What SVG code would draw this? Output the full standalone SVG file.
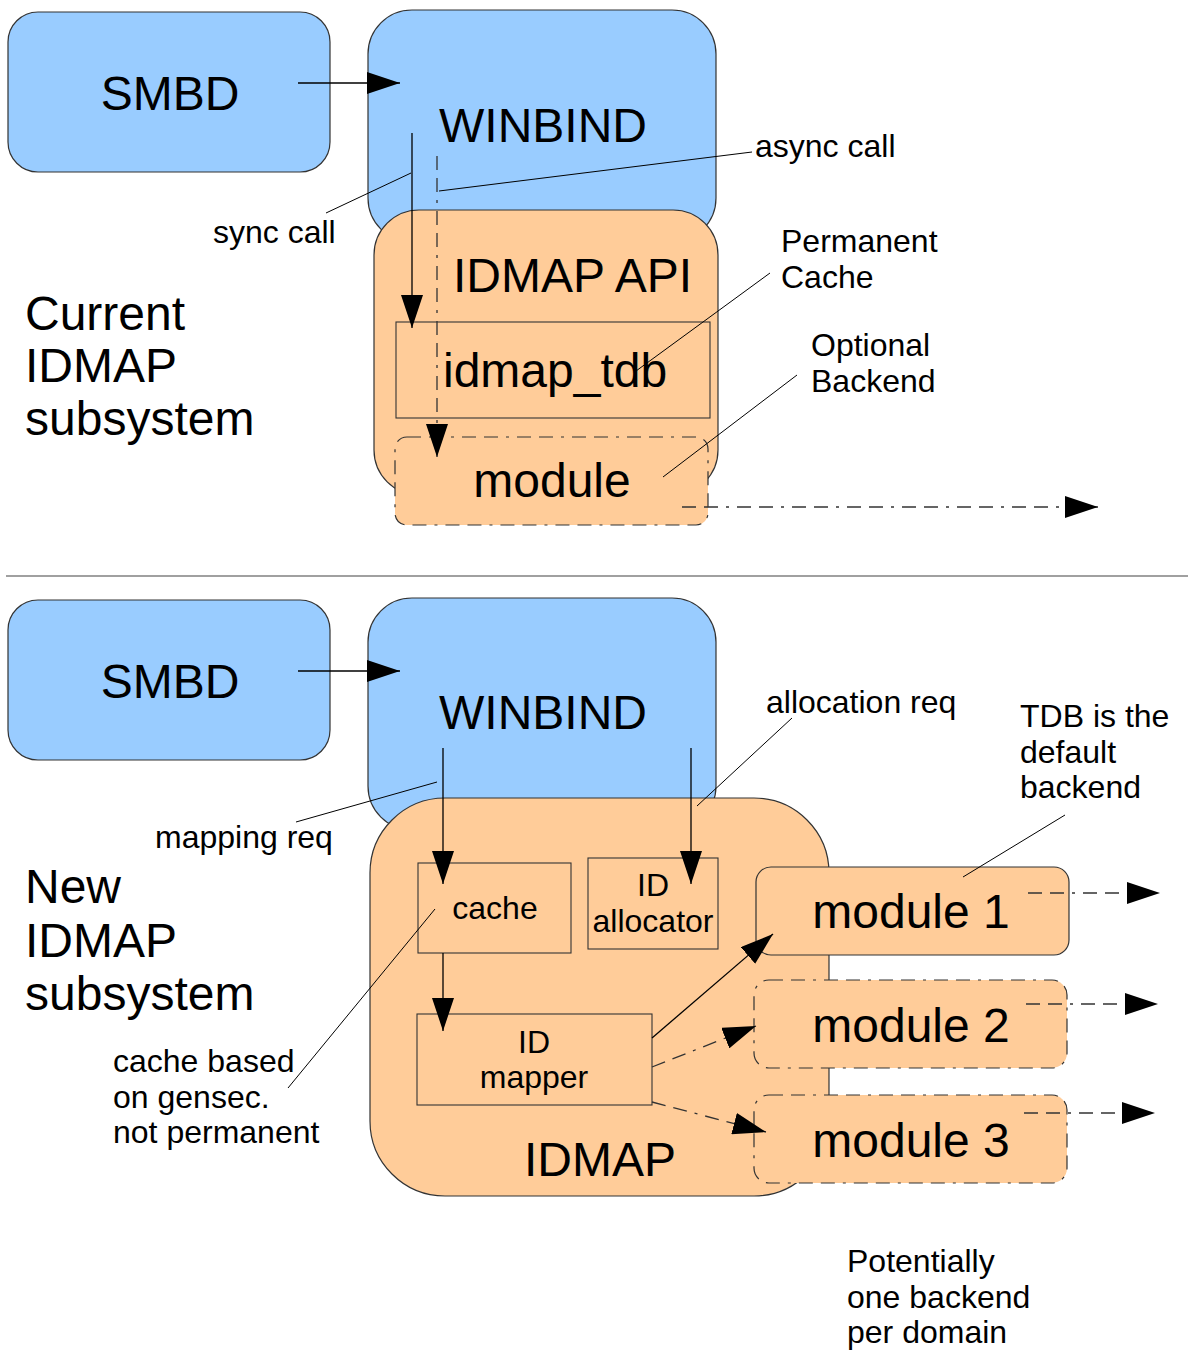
<svg xmlns="http://www.w3.org/2000/svg" width="1193" height="1355" viewBox="0 0 1193 1355">
<defs>
<marker id="ah" markerUnits="userSpaceOnUse" markerWidth="34" markerHeight="22" refX="33" refY="11" orient="auto" viewBox="0 0 34 22">
<path d="M0,0 L33,11 L0,22 z" fill="#000"/>
</marker>
</defs>
<style>
.blue{fill:#99ccff;stroke:#333;stroke-width:1.2}
.org{fill:#ffcc99;stroke:#333;stroke-width:1.2}
.orgd{fill:#ffcc99;stroke:#333;stroke-width:1.2;stroke-dasharray:14 8 14 8 3 8}
.rect{fill:none;stroke:#333;stroke-width:1.1}
.big{font-family:"Liberation Sans",Arial,sans-serif;font-size:48px;fill:#000}
.sm{font-family:"Liberation Sans",Arial,sans-serif;font-size:32px;fill:#000}
.arr{fill:none;stroke:#000;stroke-width:1.3;marker-end:url(#ah)}
.darr{fill:none;stroke:#333;stroke-width:1.3;stroke-dasharray:14 8 14 8 3 8;marker-end:url(#ah)}
.lead{fill:none;stroke:#000;stroke-width:1}
</style>
<rect width="1193" height="1355" fill="#fff"/>

<!-- TOP SECTION -->
<g id="smbd1"><rect class="blue" x="8" y="12" width="322" height="160" rx="30"/><text class="big" x="170" y="110" text-anchor="middle">SMBD</text></g>
<g id="winbind1"><rect class="blue" x="368" y="10" width="348" height="232" rx="44"/><text class="big" x="439" y="142">WINBIND</text></g>
<g id="idmapapi"><rect class="org" x="374" y="210" width="344" height="285" rx="45"/><text class="big" x="453" y="292">IDMAP API</text></g>
<g id="idmaptdb"><rect class="rect" x="396" y="322" width="314" height="96"/><text class="big" x="443" y="387">idmap_tdb</text></g>
<g id="module"><rect class="orgd" x="395" y="437" width="313" height="88" rx="12"/><text class="big" x="552" y="497" text-anchor="middle">module</text></g>
<g id="label-current"><text class="big" x="25" y="330">Current</text><text class="big" x="25" y="382">IDMAP</text><text class="big" x="25" y="435">subsystem</text></g>
<g id="label-sync"><text class="sm" x="213" y="243">sync call</text></g>
<g id="label-async"><text class="sm" x="755" y="157">async call</text></g>
<g id="label-perm"><text class="sm" x="781" y="252">Permanent</text><text class="sm" x="781" y="288">Cache</text></g>
<g id="label-opt"><text class="sm" x="811" y="356">Optional</text><text class="sm" x="811" y="392">Backend</text></g>

<line x1="6" y1="576" x2="1188" y2="576" stroke="#808080" stroke-width="1.3"/>

<!-- BOTTOM SECTION -->
<g id="smbd2"><rect class="blue" x="8" y="600" width="322" height="160" rx="30"/><text class="big" x="170" y="698" text-anchor="middle">SMBD</text></g>
<g id="winbind2"><rect class="blue" x="368" y="598" width="348" height="232" rx="44"/><text class="big" x="439" y="729">WINBIND</text></g>
<g id="idmap"><rect class="org" x="370" y="798" width="459" height="398" rx="75"/><text class="big" x="600" y="1176" text-anchor="middle">IDMAP</text></g>
<g id="cache"><rect class="rect" x="418" y="863" width="153" height="90"/><text class="sm" x="495" y="919" text-anchor="middle">cache</text></g>
<g id="idalloc"><rect class="rect" x="588" y="858" width="130" height="91"/><text class="sm" x="653" y="896" text-anchor="middle">ID</text><text class="sm" x="653" y="932" text-anchor="middle">allocator</text></g>
<g id="idmapper"><rect class="rect" x="417" y="1014" width="235" height="91"/><text class="sm" x="534" y="1053" text-anchor="middle">ID</text><text class="sm" x="534" y="1088" text-anchor="middle">mapper</text></g>
<g id="module1"><rect class="org" x="756" y="867" width="313" height="88" rx="15"/><text class="big" x="911" y="928" text-anchor="middle">module 1</text></g>
<g id="module2"><rect class="orgd" x="754" y="980" width="313" height="88" rx="15"/><text class="big" x="911" y="1042" text-anchor="middle">module 2</text></g>
<g id="module3"><rect class="orgd" x="754" y="1095" width="313" height="88" rx="15"/><text class="big" x="911" y="1157" text-anchor="middle">module 3</text></g>
<g id="label-new"><text class="big" x="25" y="903">New</text><text class="big" x="25" y="957">IDMAP</text><text class="big" x="25" y="1010">subsystem</text></g>
<g id="label-mapping"><text class="sm" x="155" y="848">mapping req</text></g>
<g id="label-alloc"><text class="sm" x="766" y="713">allocation req</text></g>
<g id="label-tdb"><text class="sm" x="1020" y="727">TDB is the</text><text class="sm" x="1020" y="763">default</text><text class="sm" x="1020" y="798">backend</text></g>
<g id="label-cachebased"><text class="sm" x="113" y="1072">cache based</text><text class="sm" x="113" y="1108">on gensec.</text><text class="sm" x="113" y="1143">not permanent</text></g>
<g id="label-pot"><text class="sm" x="847" y="1272">Potentially</text><text class="sm" x="847" y="1308">one backend</text><text class="sm" x="847" y="1343">per domain</text></g>

<!-- CONNECTORS -->
<g id="connectors">
<line class="arr" x1="298" y1="83" x2="400" y2="83"/>
<line class="arr" x1="412" y1="133" x2="412" y2="328"/>
<line class="darr" x1="437" y1="156" x2="437" y2="457"/>
<line class="darr" x1="682" y1="507" x2="1098" y2="507"/>
<line class="lead" x1="411" y1="173" x2="326" y2="213"/>
<line class="lead" x1="439" y1="191" x2="752" y2="152"/>
<line class="lead" x1="770" y1="273" x2="636" y2="371"/>
<line class="lead" x1="797" y1="375" x2="663" y2="477"/>

<line class="arr" x1="298" y1="671" x2="400" y2="671"/>
<line class="arr" x1="443" y1="748" x2="443" y2="884"/>
<line class="arr" x1="691" y1="748" x2="691" y2="884"/>
<line class="arr" x1="443" y1="953" x2="443" y2="1031"/>
<line class="arr" x1="652" y1="1038" x2="773" y2="934"/>
<line class="darr" x1="652" y1="1067" x2="756" y2="1026"/>
<line class="darr" x1="652" y1="1102" x2="766" y2="1132"/>
<line class="darr" x1="1028" y1="893" x2="1160" y2="893"/>
<line class="darr" x1="1026" y1="1004" x2="1158" y2="1004"/>
<line class="darr" x1="1024" y1="1113" x2="1155" y2="1113"/>
<line class="lead" x1="437" y1="782" x2="296" y2="822"/>
<line class="lead" x1="697" y1="806" x2="792" y2="718"/>
<line class="lead" x1="1065" y1="815" x2="963" y2="877"/>
<line class="lead" x1="435" y1="909" x2="288" y2="1088"/>
</g>
</svg>
